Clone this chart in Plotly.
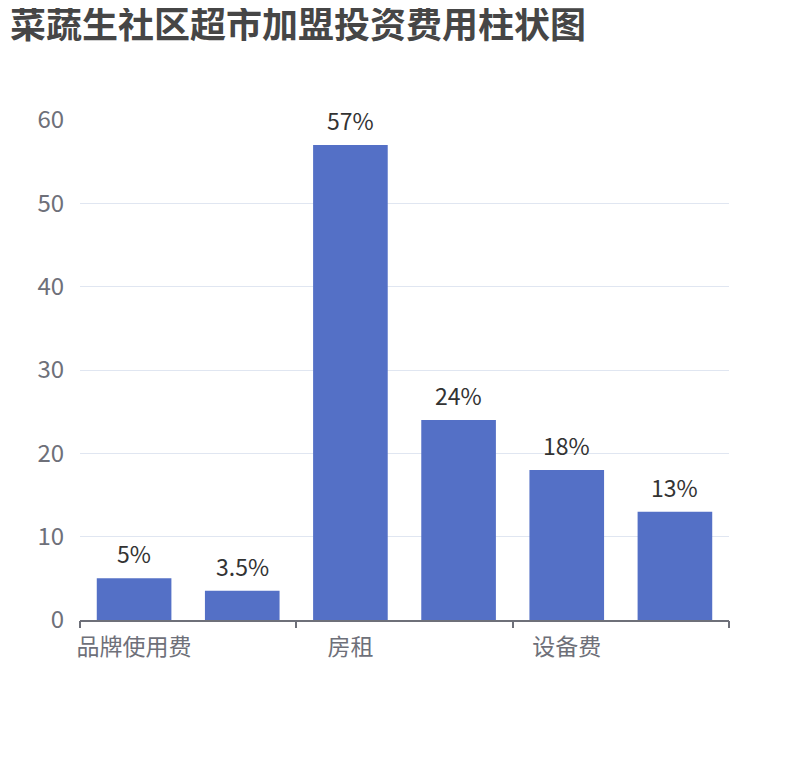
import plotly.graph_objects as go

# 费用类别及占比(%)
categories = ['品牌使用费', '保证金', '房租', '装修费', '设备费', '其他']
values = [5, 3.5, 57, 24, 18, 13]
shown_labels = ['品牌使用费', '房租', '设备费']
y_ticks = [0, 10, 20, 30, 40, 50, 60]

font_family = 'Noto Sans CJK SC, Microsoft YaHei, sans-serif'
axis_color = '#6E7079'

fig = go.Figure()

fig.add_trace(go.Bar(
    x=categories, y=values,
    marker=dict(color='#5470C6', line=dict(width=0)),
    hoverinfo='x+y',
))

# invisible copy on the numeric overlay axis, only so that axis gets drawn
fig.add_trace(go.Bar(
    x=list(range(len(values))), y=values,
    xaxis='x2', opacity=0, hoverinfo='skip', showlegend=False,
))

# value labels above the bars
for c, v in zip(categories, values):
    fig.add_annotation(
        x=c, y=v, xref='x', yref='y',
        text=f'{v:g}%', showarrow=False,
        yanchor='bottom', yshift=6,
        font=dict(size=23, color='#333333', family=font_family),
    )

fig.update_layout(
    width=810, height=760,
    autosize=False,
    paper_bgcolor='white', plot_bgcolor='white',
    margin=dict(l=72, r=89, t=112, b=148),
    showlegend=False,
    bargap=0.31,
    barmode='overlay',
    font=dict(family=font_family),
    title=dict(
        text='<b>菜蔬生社区超市加盟投资费用柱状图</b>',
        font=dict(size=36, color='#464646', family=font_family),
        x=2 / 810, xref='container', xanchor='left',
        y=1 - 5 / 760, yref='container', yanchor='top',
    ),
    xaxis=dict(
        type='category',
        tickmode='array',
        tickvals=shown_labels,
        ticktext=shown_labels,
        ticks='',
        ticklabelstandoff=6,
        showline=True, linecolor=axis_color, linewidth=1.5,
        showgrid=False, zeroline=False,
        tickfont=dict(size=23, color=axis_color),
        range=[-0.5, len(categories) - 0.5],
    ),
    # 仅用于在每两个类别边界处画刻度线
    xaxis2=dict(
        overlaying='x', anchor='y', side='bottom',
        range=[-0.5, len(categories) - 0.5],
        tickmode='array',
        tickvals=[-0.5, 1.5, 3.5, 5.5],
        ticks='outside', ticklen=7, tickwidth=1.5, tickcolor=axis_color,
        showticklabels=False, showgrid=False, zeroline=False, showline=False,
    ),
    yaxis=dict(
        range=[0, 60],
        tickmode='array', tickvals=y_ticks,
        gridcolor='#E0E6F1', gridwidth=1,
        zeroline=False, showline=False,
        tickfont=dict(size=24, color=axis_color),
        ticks='outside', ticklen=10, tickcolor='rgba(0,0,0,0)',
    ),
)

fig.write_html('out.html')
